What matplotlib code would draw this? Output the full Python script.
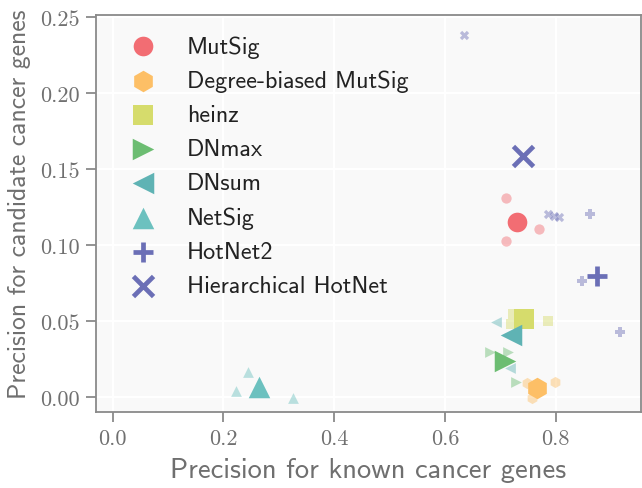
import matplotlib
matplotlib.use("Agg")
import matplotlib.pyplot as plt

methods = ["MutSig", "Degree-biased MutSig", "heinz", "DNmax", "DNsum",
           "NetSig", "HotNet2", "Hierarchical HotNet"]
colors = ["#f26d73", "#fdbf66", "#d6dc6c", "#6cbd72", "#5fb3b4",
          "#6cc1bf", "#6b6fb6", "#6b6fb6"]
markers_main = ["o", "h", "s", ">", "<", "^", "+", "x"]
markers_small = ["o", "h", "s", ">", "<", "^", "P", "X"]

# main (large) points: known-gene precision, candidate-gene precision
main_x = [0.730, 0.767, 0.743, 0.708, 0.720, 0.265, 0.874, 0.741]
main_y = [0.115, 0.006, 0.0515, 0.024, 0.041, 0.0066, 0.0796, 0.159]

# variant (small, faded) points
small_x = [
    [0.711, 0.711, 0.769],
    [0.748, 0.798, 0.757],
    [0.7235, 0.786, 0.720],
    [0.681, 0.714, 0.729],
    [0.693, 0.749, 0.718],
    [0.245, 0.222, 0.326],
    [0.862, 0.847, 0.916],
    [0.635, 0.786, 0.797, 0.806],
]
small_y = [
    [0.131, 0.103, 0.111],
    [0.0094, 0.0099, -0.0005],
    [0.0548, 0.0504, 0.0482],
    [0.030, 0.030, 0.0103],
    [0.0497, 0.0548, 0.019],
    [0.0164, 0.0043, -0.0007],
    [0.1205, 0.0767, 0.0428],
    [0.2383, 0.1206, 0.1195, 0.1185],
]

plt.rcParams["axes.formatter.use_mathtext"] = True

fig = plt.figure(figsize=(6.42, 4.89), dpi=100)
ax = fig.add_axes([96 / 642, 1 - 413 / 489, (640.5 - 96) / 642, (413 - 16) / 489])
ax.set_facecolor("#f9f9f9")
ax.grid(True, color="white", linewidth=1.5)
ax.set_axisbelow(True)

main_sizes = [200, 240, 210, 240, 240, 240, 210, 210]
small_sizes = [55, 65, 55, 60, 60, 60, 45, 45]

for i, m in enumerate(methods):
    ax.scatter(small_x[i], small_y[i], marker=markers_small[i], s=small_sizes[i],
               color=colors[i], alpha=0.45, linewidths=0, zorder=2)
for i, m in enumerate(methods):
    if markers_main[i] in ("+", "x"):
        ax.scatter(main_x[i], main_y[i], marker=markers_main[i], s=main_sizes[i],
                   color=colors[i], linewidths=3.4, zorder=3, label=m)
    else:
        ax.scatter(main_x[i], main_y[i], marker=markers_main[i], s=main_sizes[i],
                   color=colors[i], linewidths=0, zorder=3, label=m)

ax.set_xlim(-0.03, 0.953)
ax.set_ylim(-0.0097, 0.2515)
ax.set_xticks([0.0, 0.2, 0.4, 0.6, 0.8])
ax.set_yticks([0.00, 0.05, 0.10, 0.15, 0.20, 0.25])
ax.set_xticklabels(["0.0", "0.2", "0.4", "0.6", "0.8"])
ax.set_yticklabels(["0.00", "0.05", "0.10", "0.15", "0.20", "0.25"])

for sp in ax.spines.values():
    sp.set_color("#8a8a8a")
    sp.set_linewidth(1.3)
ax.tick_params(axis="both", direction="out", length=7, width=1.3,
               color="#8a8a8a", labelcolor="#707070", labelsize=16, pad=5)
for lab in ax.get_xticklabels() + ax.get_yticklabels():
    lab.set_family("cmr10")

ax.set_xlabel("Precision for known cancer genes", family="cmss10",
              fontsize=20.5, color="#6f6f6f", labelpad=6)
ax.set_ylabel("Precision for candidate cancer genes", family="cmss10",
              fontsize=18.5, color="#6f6f6f")
ax.yaxis.set_label_coords(-0.119, 0.525)

leg = ax.legend(loc="upper left", frameon=False, prop={"family": "cmss10", "size": 17.4},
                bbox_to_anchor=(0.0195, 0.992), labelspacing=0.5, handletextpad=1.02,
                handlelength=1.6, scatterpoints=1, borderaxespad=0.3, borderpad=0.4)
for t in leg.get_texts():
    t.set_color("#222222")

fig.savefig("out.png", dpi=100)
